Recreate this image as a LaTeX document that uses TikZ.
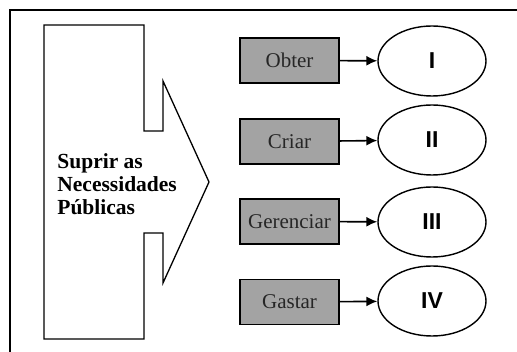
\documentclass[tikz,border=0pt]{standalone}
\usepackage{fontspec}
\setmainfont{Liberation Serif}
\newfontfamily\numfont{Liberation Sans}
\usetikzlibrary{shapes.geometric,arrows.meta}

\begin{document}
\begin{tikzpicture}[x=1pt,y=-1pt,style=thick]
%\draw[help lines] (0,0) grid (517,352);
\tikzstyle{action} = [draw,line width=1.6pt,fill=black!36,text=black!85,minimum width=99pt,minimum height=45pt,inner sep=0pt,font=\fontsize{21}{23}\selectfont]
\tikzstyle{result} = [draw,line width=1.4pt,shape=ellipse,minimum width=108pt,minimum height=70pt,inner sep=0pt,font=\numfont\bfseries\fontsize{23}{25}\selectfont]
\tikzstyle{link} = [draw,line width=1.6pt,-{Latex[length=11pt,width=10pt]}]

\useasboundingbox (0,0) rectangle (517,352);

% frame, cut off at the right and the bottom
\draw[line width=1.6pt] (10,352) -- (10,10) -- (517,10);

% big arrow
\draw[line width=1.3pt] (44,25) -- (144,25) -- (144,131) -- (163,131) -- (163,81)
  -- (209,182) -- (163,283) -- (163,233) -- (144,233) -- (144,339) -- (44,339) -- cycle;
\draw (57,184) node[anchor=west,align=left,inner sep=0pt,font=\bfseries\fontsize{21.5}{23}\selectfont] (need) {Suprir as\\Necessidades\\Públicas};

\draw (289.5,60.5) node[action] (obter) {Obter};
\draw (289.5,141.5) node[action] (criar) {Criar};
\draw (289.5,221.5) node[action] (gerenciar) {Gerenciar};
\draw (289.5,302) node[action] (gastar) {Gastar};

\draw (432,61) node[result] (i) {I};
\draw (432,140) node[result] (ii) {II};
\draw (432,222) node[result] (iii) {III};
\draw (432,301) node[result] (iv) {IV};

\draw[link] (obter) -- (i);
\draw[link] (criar) -- (ii);
\draw[link] (gerenciar) -- (iii);
\draw[link] (gastar) -- (iv);
\end{tikzpicture}
\end{document}
